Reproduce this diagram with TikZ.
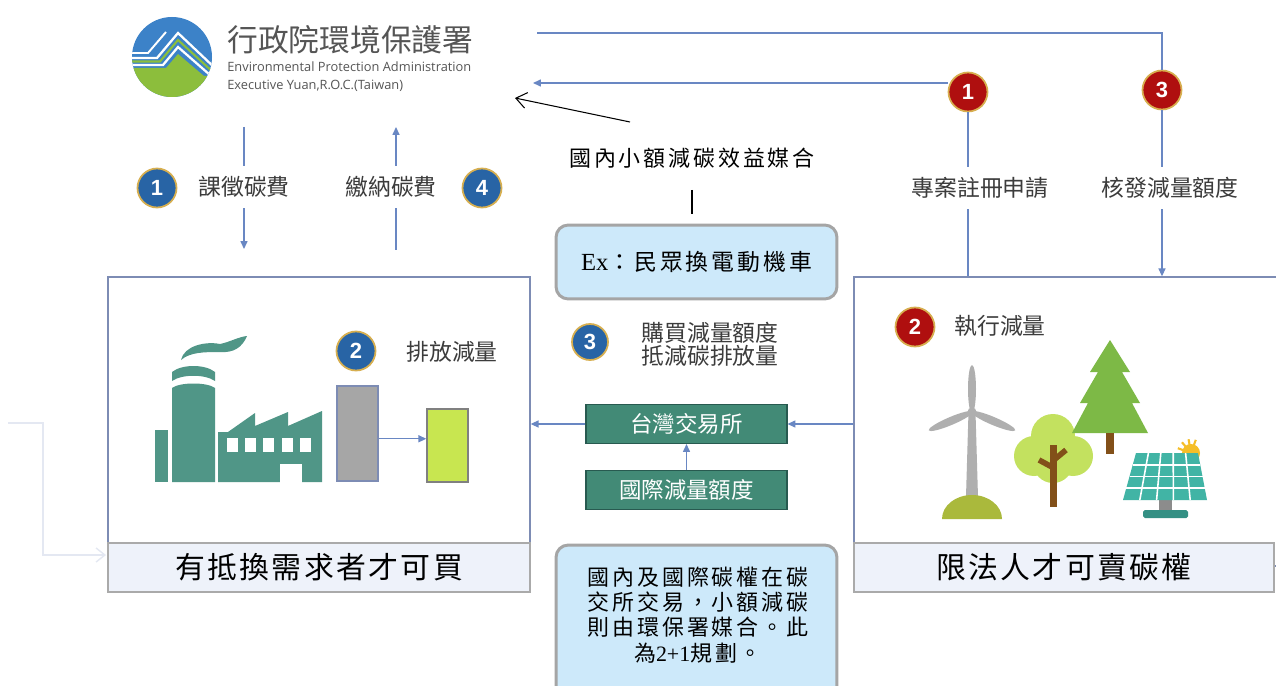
\documentclass[tikz,border=0pt]{standalone}
\usepackage{fontspec}
\setmainfont{Liberation Serif}
\newfontfamily\cjk{Noto Sans CJK TC}
\newfontfamily\cjkwide[LetterSpace=8]{Noto Sans CJK TC}
\newfontfamily\cjkspaced[LetterSpace=13]{Noto Sans CJK TC}
\newfontfamily\latinsans{Open Sans}
\newfontfamily\numfont{Liberation Sans}
\usepackage{xcolor}
\usepackage{tikz}
\usetikzlibrary{arrows.meta}

\definecolor{flowc}{RGB}{105,135,195}
\definecolor{boxc}{RGB}{125,140,180}
\definecolor{tagfill}{RGB}{238,242,250}
\definecolor{tagline}{RGB}{170,170,170}
\definecolor{bubblefill}{RGB}{205,233,250}
\definecolor{bubbleline}{RGB}{165,165,165}
\definecolor{badgeblue}{RGB}{40,100,165}
\definecolor{badgered}{RGB}{175,15,15}
\definecolor{badgerim}{RGB}{215,175,80}
\definecolor{labc}{RGB}{60,60,60}
\definecolor{titlec}{RGB}{85,85,85}
\definecolor{tealc}{RGB}{66,138,118}
\definecolor{tealdark}{RGB}{40,90,80}
\definecolor{factc}{RGB}{80,150,135}
\definecolor{barg}{RGB}{166,166,166}
\definecolor{barn}{RGB}{200,230,80}
\definecolor{logob}{RGB}{60,130,200}
\definecolor{logog}{RGB}{140,190,60}
\definecolor{faintc}{RGB}{228,232,242}
\definecolor{millc}{RGB}{175,175,175}
\definecolor{moundc}{RGB}{170,185,60}
\definecolor{leafc}{RGB}{195,225,95}
\definecolor{pinec}{RGB}{125,185,70}
\definecolor{trunkc}{RGB}{130,80,25}
\definecolor{panelc}{RGB}{65,180,165}
\definecolor{sunc}{RGB}{245,190,40}

\begin{document}
\begin{tikzpicture}[x=0.02cm, y=-0.02cm,
  flow/.style={draw=flowc, line width=0.7pt},
  flowtip/.style={-{Triangle[length=4.5pt,width=4pt]}},
  remark/.style={draw=black, line width=0.6pt},
  badge/.style={circle, draw=badgerim, line width=1pt, minimum size=0.78cm,
    inner sep=0pt, text=white, font=\numfont\bfseries\fontsize{12.5}{12.5}\selectfont},
  bbadge/.style={badge, fill=badgeblue},
  rbadge/.style={badge, fill=badgered},
  lab/.style={font=\cjk\fontsize{13}{15}\selectfont, text=labc, inner sep=0pt,
    minimum height=0.84cm},
  mainbox/.style={draw=boxc, line width=0.8pt, minimum height=5.78cm, inner sep=0pt},
  tagbox/.style={draw=tagline, fill=tagfill, line width=1.1pt, minimum height=0.98cm,
    inner sep=0pt, font=\cjkwide\fontsize{17}{17}\selectfont},
  tealbox/.style={draw=tealdark, fill=tealc, line width=0.6pt, minimum width=4.02cm,
    minimum height=0.78cm, inner sep=0pt, text=white, font=\cjk\fontsize{12.8}{13}\selectfont},
  bubble/.style={draw=bubbleline, fill=bubblefill, line width=1.7pt, rounded corners=7pt,
    minimum width=5.62cm, inner sep=0pt}]

\useasboundingbox (0,0) rectangle (1276,686);
\fill[white] (0,0) rectangle (1276,686);
\clip (0,0) rectangle (1276,686);

% logo
\begin{scope}
  \clip (172,57) circle[radius=40];
  \fill[logob] (130,15) rectangle (214,99);
  \fill[logog] (130,68) -- (166,68) -- (178,54) -- (204,76) -- (214,76) -- (214,99) -- (130,99) -- cycle;
  \draw[white, line width=1.3pt] (130,65) -- (163,65) -- (178,47) -- (210,75);
  \draw[logog, line width=1.2pt] (130,61.5) -- (160,61.5) -- (178,40) -- (214,73);
  \draw[white, line width=1.3pt] (130,58) -- (157,58) -- (178,33) -- (216,69);
  \draw[white, line width=1.1pt] (130,53) -- (148,53) -- (166,32);
\end{scope}
\node[anchor=west, inner sep=0pt, font=\cjk\fontsize{17.5}{20}\selectfont, text=titlec]
  (epa) at (227,40) {行政院環境保護署};
\node[anchor=west, inner sep=0pt, align=left, font=\latinsans\fontsize{7.3}{10.2}\selectfont, text=titlec]
  (epaen) at (227,77) {Environmental Protection Administration\\Executive Yuan,R.O.C.(Taiwan)};

% boxes
\node[mainbox, minimum width=8.44cm] (buybox) at (319,421.5) {};
\node[mainbox, minimum width=8.72cm] (sellbox) at (1072,421.5) {};

% factory
\fill[factc] (155,430) rectangle (168,482);
\fill[factc] (172,482) -- (172,388) .. controls (180,382) and (207,382) .. (215,388) -- (215,482) -- cycle;
\fill[factc] (172,372) .. controls (182,364) and (205,364) .. (215,372) -- (215,381)
  .. controls (205,374) and (182,374) .. (172,381) -- cycle;
\fill[factc] (181,360) .. controls (184,346) and (205,341) .. (220,344)
  .. controls (230,342) and (238,337) .. (247,336)
  .. controls (242,348) and (233,353) .. (220,352)
  .. controls (205,352) and (190,352) .. (181,360) -- cycle;
\fill[factc] (218,482) -- (218,432) -- (228,432) -- (255,413) -- (255,426) -- (288,412)
  -- (288,426) -- (322,411) -- (322,482) -- cycle;
\foreach \wx in {227,245,263,282,300}
  \fill[white] (\wx,438) rectangle ++(11,14);
\fill[white] (280,464) rectangle (302,483);

% emission bars
\node[draw=boxc, fill=barg, line width=0.8pt, minimum width=0.82cm, minimum height=1.9cm, inner sep=0pt]
  (before) at (357.5,433.5) {};
\node[draw=gray, fill=barn, line width=0.8pt, minimum width=0.82cm, minimum height=1.46cm, inner sep=0pt]
  (after) at (447.5,445.5) {};
\draw[flow,flowtip] ([yshift=-3pt]before.east) -- ([yshift=-3pt]before.east -| after.west);

% wind turbine
\fill[millc] (968.5,412) -- (975.5,412) -- (978,497) -- (966,497) -- cycle;
\foreach \ang in {0,113,-113}
  \fill[millc, rotate around={\ang:(972,412)}] (972,389) ellipse [x radius=4, y radius=24];
\fill[millc] (972,412) circle[radius=4.5];
\fill[white] (966,497) rectangle (978,499);
\fill[moundc] (942,519) arc[start angle=180, end angle=360, x radius=30, y radius=24] -- cycle;

% round tree
\fill[leafc] (1034,456) circle[radius=20] (1053,436) circle[radius=22]
  (1073,456) circle[radius=20] (1053,463) circle[radius=20];
\fill[trunkc] (1050,445) rectangle (1057,507);
\draw[trunkc, line width=3.2pt] (1052,467) -- (1039,460);
\draw[trunkc, line width=3.2pt] (1055,459) -- (1066,450);

% pine
\fill[pinec] (1110,340) -- (1130,372) -- (1122,372) -- (1140,403) -- (1132,403) -- (1148,433)
  -- (1072,433) -- (1088,403) -- (1080,403) -- (1098,372) -- (1090,372) -- cycle;
\fill[trunkc] (1106,433) rectangle (1114,454);

% solar panel
\foreach \ang in {-10,20,...,110}
  \draw[sunc, line width=1.2pt] (1191,453) -- ++({-14*cos(\ang)},{-14*sin(\ang)});
\fill[sunc] (1191,453) circle[radius=9];
\fill[millc!80!black] (1159,499) rectangle (1172,511);
\fill[panelc!80!black, rounded corners=1pt] (1143,510) rectangle (1188,518);
\fill[panelc] (1136,453) -- (1198,453) -- (1207,500) -- (1123,500) -- cycle;
\foreach \t in {0.25,0.5,0.75}
  \draw[white, line width=0.9pt] ({1136-13*\t},{453+47*\t}) -- ({1198+9*\t},{453+47*\t});
\foreach \s in {0.2,0.4,0.6,0.8}
  \draw[white, line width=0.9pt] ({1136+62*\s},453) -- ({1123+84*\s},500);

% tag boxes
\node[tagbox, minimum width=8.44cm] (buytag) at (319,567.5) {有抵換需求者才可買};
\node[tagbox, minimum width=8.4cm] (selltag) at (1064,567.5) {限法人才可賣碳權};

% badges and labels
\node[bbadge] (bb1) at (157,188) {1};
\node[bbadge] (bb4) at (482,188) {4};
\node[bbadge] (bb2) at (356,351) {2};
\node[bbadge, minimum size=0.72cm] (bb3) at (590,342) {3};
\node[rbadge] (rb1) at (968,92) {1};
\node[rbadge] (rb3) at (1162,90) {3};
\node[rbadge] (rb2) at (915,327) {2};

\node[lab] (levy) at (244,187) {課徵碳費};
\node[lab] (pay) at (391,187) {繳納碳費};
\node[lab] (reg) at (980,188) {專案註冊申請};
\node[lab] (issue) at (1170,188) {核發減量額度};
\node[lab] (cut) at (452,352) {排放減量};
\node[lab] (act) at (1000,326) {執行減量};
\node[lab, align=left, font=\cjk\fontsize{13}{13.2}\selectfont] (buy) at (710,344)
  {購買減量額度\\抵減碳排放量};

% exchange
\node[tealbox] (twse) at (686.5,424) {台灣交易所};
\node[tealbox] (intl) at (686.5,490) {國際減量額度};
\draw[flow,flowtip] (intl) -- (twse);
\draw[flow,flowtip] (sellbox.west |- twse) -- (twse);
\draw[flow,flowtip] (twse) -- (twse -| buybox.east);

% flows to and from the agency
\coordinate (t0) at (537,33);
\draw[flow] (t0) -| (rb3);
\draw[flow] (rb3) -- (rb3 |- issue.north);
\draw[flow,flowtip] (rb3 |- issue.south) -- (rb3 |- sellbox.north);
\coordinate (a0) at (533,83);
\draw[flow,flowtip] (a0 -| rb1.west) -- (a0);
\draw[flow] (rb1) -- (rb1 |- reg.north);
\draw[flow] (rb1 |- reg.south) -- (rb1 |- sellbox.north);

\coordinate (l0) at (244,127);
\coordinate (l1) at (244,249);
\draw[flow] (l0) -- (levy.north);
\draw[flow,flowtip] (levy.south) -- (l1);
\coordinate (p0) at (396,250);
\coordinate (p1) at (396,127);
\draw[flow] (p0) -- (p0 |- pay.south);
\draw[flow,flowtip] (p0 |- pay.north) -- (p1);

% small-scale matching
\node[font=\cjkspaced\fontsize{12.5}{14}\selectfont] (match) at (692,158) {國內小額減碳效益媒合};
\coordinate (m0) at (630,122);
\coordinate (m1) at (515,98);
\draw[remark, -{Straight Barb[length=6pt,width=9pt]}] (m0) -- (m1);
\coordinate (m2) at (692,190);
\coordinate (m3) at (692,214);
\draw[remark] (m2) -- (m3);
\node[bubble, minimum height=1.48cm, font=\cjkspaced\fontsize{13}{14}\selectfont]
  (ex) at (696.5,262) {{\rmfamily\fontsize{14}{14}\selectfont Ex}：民眾換電動機車};

\node[bubble, minimum height=3.4cm] (notebox) at (696.5,630) {};
\node[align=center, inner sep=0pt, font=\cjkspaced\fontsize{12.5}{14.3}\selectfont]
  (notetext) at (698,615)
  {國內及國際碳權在碳\\交所交易，小額減碳\\則由環保署媒合。此\\為{\rmfamily 2+1}規劃。};

% faint return line
\coordinate (f0) at (8,423);
\coordinate (f1) at (106,555);
\draw[faintc, line width=0.8pt, -{Straight Barb[length=5pt,width=8pt]}] (f0) -- (43,423) |- (f1);
\end{tikzpicture}
\end{document}
